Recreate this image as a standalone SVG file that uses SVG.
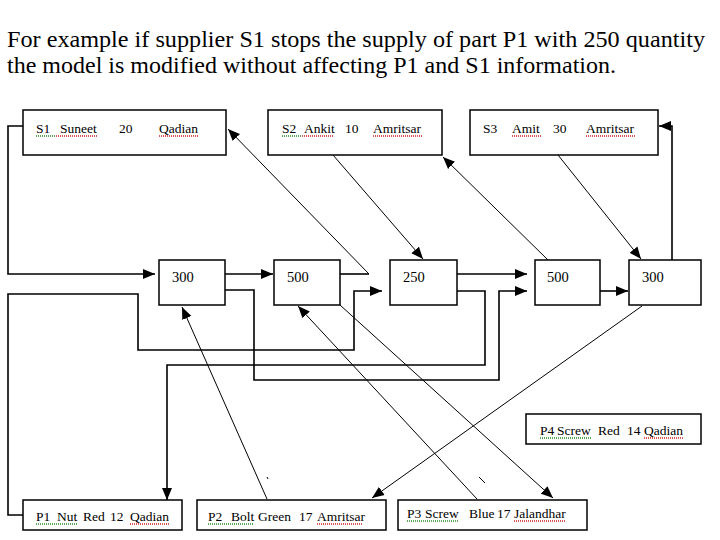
<svg xmlns="http://www.w3.org/2000/svg" width="720" height="540" viewBox="0 0 720 540">
<style>
.bx{fill:#fff;stroke:#000;stroke-width:1.5}
.t{font-family:"Liberation Serif","Times New Roman",serif;font-size:13.5px;fill:#000}
.n{font-family:"Liberation Serif","Times New Roman",serif;font-size:14.5px;fill:#000}
.ttl{font-family:"Liberation Serif","Times New Roman",serif;font-size:24px;fill:#000}
.ol{fill:none;stroke:#000;stroke-width:1.6}
.dg{fill:none;stroke:#000;stroke-width:1}
.ug{stroke:#2a8a2a;stroke-width:1.4;stroke-dasharray:1 1}
.ur{stroke:#d02020;stroke-width:1.4;stroke-dasharray:1 1}
</style>
<defs>
<marker id="ah" viewBox="0 0 12 10" refX="12" refY="5" markerWidth="12" markerHeight="11" markerUnits="userSpaceOnUse" orient="auto"><path d="M0,0 L12,5 L0,10 z" fill="#000"/></marker>
</defs>
<rect width="720" height="540" fill="#fff"/>
<g id="title">
<text class="ttl" x="7" y="47" textLength="698" lengthAdjust="spacingAndGlyphs">For example if supplier S1 stops the supply of part P1 with 250 quantity</text>
<text class="ttl" x="7" y="73" textLength="609" lengthAdjust="spacingAndGlyphs">the model is modified without affecting P1 and S1 information.</text>
</g>
<g id="connectors">
<polyline class="ol" points="23,126 8,126 8,274 155,274" marker-end="url(#ah)"/>
<polyline class="ol" points="225,274 273,274" marker-end="url(#ah)"/>
<polyline class="ol" points="340,274 369,274"/>
<polyline class="dg" points="369,274 228,129" marker-end="url(#ah)"/>
<polyline class="ol" points="225,290 254,290 254,380 499,380 499,291 527,291" marker-end="url(#ah)"/>
<polyline class="ol" points="23,515 8,515 8,294 138,294 138,350 354,350 354,291 382,291" marker-end="url(#ah)"/>
<polyline class="ol" points="457,274 527,274" marker-end="url(#ah)"/>
<polyline class="ol" points="457,291 485,291 485,365 167,365 167,500" marker-end="url(#ah)"/>
<polyline class="ol" points="600,291 628,291" marker-end="url(#ah)"/>
<polyline class="ol" points="672,260 672,126 659,126" marker-end="url(#ah)"/>
<line class="dg" x1="558" y1="155" x2="641" y2="259" marker-end="url(#ah)"/>
<line class="dg" x1="548" y1="260" x2="443" y2="157" marker-end="url(#ah)"/>
<line class="dg" x1="333" y1="155" x2="423" y2="259" marker-end="url(#ah)"/>
<line class="dg" x1="267" y1="499" x2="182" y2="307" marker-end="url(#ah)"/>
<line class="dg" x1="477" y1="499" x2="298" y2="306" marker-end="url(#ah)"/>
<line class="dg" x1="340" y1="305" x2="553" y2="498" marker-end="url(#ah)"/>
<line class="dg" x1="642" y1="306" x2="372" y2="498" marker-end="url(#ah)"/>
<line class="dg" x1="267" y1="477" x2="268" y2="479"/>
<line class="dg" x1="479" y1="477" x2="485" y2="483"/>
</g>
<g id="S1">
<rect class="bx" x="23" y="110" width="203" height="45"/>
<text class="t" y="133"><tspan x="36">S1</tspan><tspan x="60">Suneet</tspan><tspan x="119">20</tspan><tspan x="159">Qadian</tspan></text>
<line class="ug" x1="36" y1="136" x2="56" y2="136"/><line class="ur" x1="56" y1="136" x2="97" y2="136"/><line class="ur" x1="159" y1="136" x2="199" y2="136"/>
</g>
<g id="S2">
<rect class="bx" x="268" y="110" width="174" height="45"/>
<text class="t" y="133"><tspan x="282">S2</tspan><tspan x="304">Ankit</tspan><tspan x="345">10</tspan><tspan x="373">Amritsar</tspan></text>
<line class="ug" x1="282" y1="136" x2="302" y2="136"/><line class="ur" x1="302" y1="136" x2="334" y2="136"/><line class="ur" x1="373" y1="136" x2="422" y2="136"/>
</g>
<g id="S3">
<rect class="bx" x="470" y="110" width="188" height="45"/>
<text class="t" y="133"><tspan x="483">S3</tspan><tspan x="512">Amit</tspan><tspan x="553">30</tspan><tspan x="586">Amritsar</tspan></text>
<line class="ur" x1="512" y1="136" x2="541" y2="136"/><line class="ur" x1="586" y1="136" x2="635" y2="136"/>
</g>
<g id="Q1"><rect class="bx" x="159" y="260" width="66" height="45"/><text class="n" x="172" y="282">300</text></g>
<g id="Q2"><rect class="bx" x="274" y="260" width="66" height="45"/><text class="n" x="287" y="282">500</text></g>
<g id="Q3"><rect class="bx" x="390" y="260" width="67" height="45"/><text class="n" x="403" y="282">250</text></g>
<g id="Q4"><rect class="bx" x="535" y="260" width="65" height="45"/><text class="n" x="547" y="282">500</text></g>
<g id="Q5"><rect class="bx" x="629" y="260" width="72" height="45"/><text class="n" x="642" y="282">300</text></g>
<g id="P1">
<rect class="bx" x="23" y="500" width="159" height="30"/>
<text class="t" y="521"><tspan x="36">P1</tspan><tspan x="57">Nut</tspan><tspan x="83">Red</tspan><tspan x="110">12</tspan><tspan x="130">Qadian</tspan></text>
<line class="ug" x1="36" y1="524" x2="77" y2="524"/><line class="ur" x1="130" y1="524" x2="170" y2="524"/>
</g>
<g id="P2">
<rect class="bx" x="197" y="500" width="189" height="30"/>
<text class="t" y="521"><tspan x="208">P2</tspan><tspan x="231">Bolt</tspan><tspan x="258">Green</tspan><tspan x="299">17</tspan><tspan x="317">Amritsar</tspan></text>
<line class="ug" x1="208" y1="524" x2="253" y2="524"/><line class="ur" x1="317" y1="524" x2="363" y2="524"/>
</g>
<g id="P3">
<rect class="bx" x="398" y="500" width="189" height="30"/>
<text class="t" y="518"><tspan x="407">P3</tspan><tspan x="425">Screw</tspan><tspan x="469">Blue</tspan><tspan x="497">17</tspan><tspan x="514">Jalandhar</tspan></text>
<line class="ug" x1="407" y1="521" x2="459" y2="521"/><line class="ur" x1="514" y1="521" x2="566" y2="521"/>
</g>
<g id="P4">
<rect class="bx" x="526" y="414" width="175" height="30"/>
<text class="t" y="435"><tspan x="540">P4</tspan><tspan x="557">Screw</tspan><tspan x="598">Red</tspan><tspan x="627">14</tspan><tspan x="644">Qadian</tspan></text>
<line class="ug" x1="540" y1="438" x2="591" y2="438"/><line class="ur" x1="644" y1="438" x2="683" y2="438"/>
</g>
</svg>
